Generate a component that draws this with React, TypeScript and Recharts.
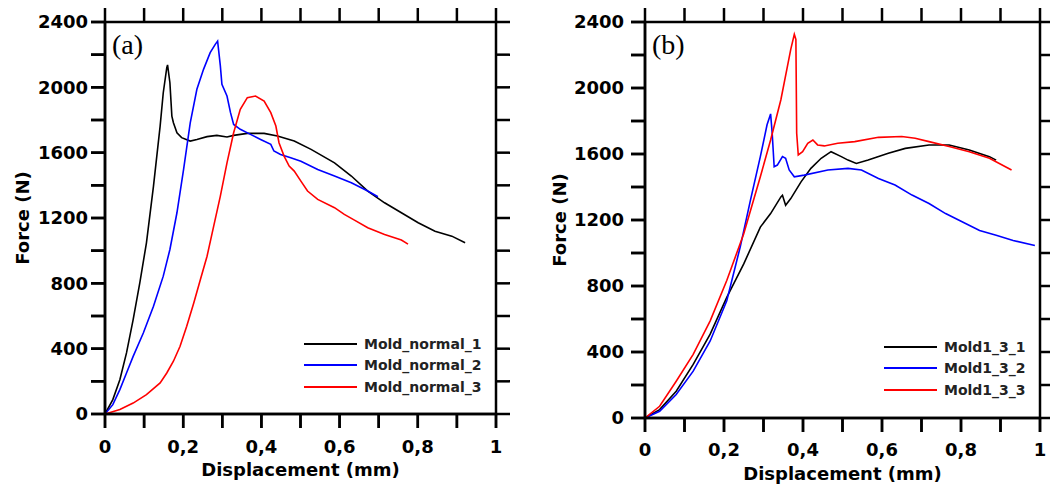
import React from 'react';
import { LineChart, Line, XAxis, YAxis, Legend, Label } from 'recharts';

// panel (a)
const normal1X = [0, 0.02, 0.038, 0.055, 0.072, 0.089, 0.106, 0.124, 0.141, 0.149, 0.158, 0.16, 0.166, 0.171, 0.175, 0.184, 0.196, 0.218, 0.235, 0.261, 0.286, 0.312, 0.329, 0.364, 0.407, 0.441, 0.484, 0.527, 0.587, 0.63, 0.672, 0.715, 0.758, 0.801, 0.844, 0.887, 0.921];
const normal1F = [0, 88, 210, 374, 578, 803, 1048, 1395, 1763, 1967, 2120, 2137, 2028, 1824, 1783, 1722, 1692, 1671, 1681, 1698, 1706, 1696, 1706, 1718, 1718, 1702, 1671, 1620, 1538, 1457, 1365, 1293, 1232, 1171, 1119, 1089, 1048];

const normal2X = [0, 0.02, 0.038, 0.055, 0.072, 0.098, 0.124, 0.149, 0.166, 0.184, 0.201, 0.218, 0.235, 0.252, 0.269, 0.282, 0.288, 0.295, 0.299, 0.312, 0.321, 0.329, 0.346, 0.372, 0.398, 0.424, 0.432, 0.449, 0.475, 0.501, 0.544, 0.587, 0.63, 0.672, 0.698];
const normal2F = [0, 57, 149, 251, 353, 496, 660, 844, 1007, 1232, 1497, 1783, 1988, 2110, 2212, 2263, 2283, 2131, 2018, 1947, 1845, 1773, 1743, 1712, 1681, 1651, 1610, 1589, 1569, 1548, 1497, 1457, 1416, 1365, 1330];

const normal3X = [0, 0.038, 0.072, 0.106, 0.141, 0.158, 0.175, 0.192, 0.209, 0.227, 0.244, 0.261, 0.278, 0.295, 0.312, 0.329, 0.346, 0.364, 0.385, 0.407, 0.424, 0.437, 0.445, 0.458, 0.471, 0.484, 0.501, 0.518, 0.544, 0.587, 0.612, 0.638, 0.672, 0.715, 0.758, 0.775];
const normal3F = [0, 27, 67, 118, 190, 251, 323, 415, 537, 680, 823, 966, 1150, 1334, 1538, 1722, 1865, 1937, 1947, 1916, 1845, 1763, 1661, 1579, 1518, 1487, 1426, 1365, 1314, 1263, 1222, 1187, 1140, 1099, 1065, 1040];

// panel (b)
const mold1X = [0, 0.037, 0.079, 0.122, 0.165, 0.207, 0.25, 0.292, 0.318, 0.344, 0.348, 0.356, 0.369, 0.395, 0.42, 0.446, 0.471, 0.497, 0.514, 0.535, 0.565, 0.616, 0.659, 0.719, 0.77, 0.821, 0.872, 0.889];
const mold1F = [0, 51, 162, 325, 508, 731, 934, 1157, 1239, 1340, 1350, 1289, 1330, 1431, 1513, 1574, 1614, 1584, 1563, 1543, 1563, 1604, 1634, 1655, 1655, 1624, 1584, 1563];

const mold2X = [0, 0.037, 0.079, 0.122, 0.165, 0.207, 0.241, 0.267, 0.292, 0.309, 0.318, 0.322, 0.327, 0.335, 0.348, 0.356, 0.365, 0.378, 0.403, 0.463, 0.514, 0.548, 0.591, 0.633, 0.676, 0.719, 0.761, 0.804, 0.847, 0.889, 0.932, 0.987];
const mold2F = [0, 41, 142, 284, 467, 711, 1036, 1320, 1584, 1777, 1843, 1726, 1523, 1533, 1584, 1574, 1503, 1462, 1472, 1503, 1513, 1503, 1452, 1412, 1351, 1300, 1239, 1188, 1137, 1107, 1076, 1046];

const mold3X = [0, 0.037, 0.079, 0.122, 0.165, 0.207, 0.25, 0.292, 0.318, 0.344, 0.369, 0.378, 0.382, 0.384, 0.388, 0.399, 0.412, 0.425, 0.437, 0.454, 0.488, 0.531, 0.591, 0.65, 0.684, 0.719, 0.77, 0.821, 0.872, 0.928];
const mold3F = [0, 71, 223, 386, 589, 833, 1117, 1462, 1685, 1929, 2234, 2325, 2294, 1726, 1594, 1614, 1665, 1685, 1655, 1649, 1665, 1675, 1701, 1706, 1695, 1675, 1645, 1614, 1574, 1503];

const xTicks = [0, 0.1, 0.2, 0.3, 0.4, 0.5, 0.6, 0.7, 0.8, 0.9, 1];
const yTicks = [0, 200, 400, 600, 800, 1000, 1200, 1400, 1600, 1800, 2000, 2200, 2400];

const X_MAX = 1;
const Y_MAX = 2400;
const TICK = 14;
const W = 525;
const H = 486;

const toPoints = (xs: number[], fs: number[]) => xs.map((x, i) => ({ x, f: fs[i] }));

const FONT = '"DejaVu Sans", Verdana, sans-serif';

const fmtX = (v: number) => (Math.round(v * 10) % 2 === 0 ? String(v).replace('.', ',') : '');
const fmtY = (v: number) => (v % 400 === 0 ? String(v) : '');

const XTick = (props: any) => (
  <text x={props.x} y={props.y} dy="0.72em" textAnchor="middle" fontFamily={FONT} fontWeight="bold" fontSize={18} fill="#000" stroke="none">
    {fmtX(props.payload.value)}
  </text>
);

const YTick = (props: any) => (
  <text x={props.x} y={props.y} dy="0.36em" textAnchor="end" fontFamily={FONT} fontWeight="bold" fontSize={18} fill="#000" stroke="none">
    {fmtY(props.payload.value)}
  </text>
);

const renderLegend = (props: any) => (
  <div style={{ fontFamily: FONT, fontWeight: 'bold', fontSize: 14 }}>
    {props.payload.map((p: any) => (
      <div key={p.value} style={{ display: 'flex', alignItems: 'center', height: 21.5 }}>
        <svg width={53} height={4} style={{ marginRight: 7 }}>
          <line x1={0} y1={2} x2={53} y2={2} stroke={p.color} strokeWidth={2} />
        </svg>
        <span style={{ color: '#222' }}>{p.value}</span>
      </div>
    ))}
  </div>
);

interface Series {
  name: string;
  color: string;
  xs: number[];
  fs: number[];
}

interface PanelProps {
  series: Series[];
  yAxisWidth: number;
  xAxisHeight: number;
  rightMargin: number;
  yTickMargin: number;
  xTickMargin: number;
  yLabelDx: number;
  xLabelOffset: number;
  legendLeft: number;
  legendTop: number;
}

const TOP = 22;

// box frame with outward ticks on all four sides, same box as the plot area
const Frame = ({ left, right, bottom }: { left: number; right: number; bottom: number }) => {
  const sx = (v: number) => left + (v / X_MAX) * (right - left);
  const sy = (v: number) => bottom - (v / Y_MAX) * (bottom - TOP);
  return (
    <svg width={W} height={H} style={{ position: 'absolute', left: 0, top: 0, pointerEvents: 'none' }}>
      <g stroke="#000" strokeWidth={2.5} fill="none">
        <rect x={left} y={TOP} width={right - left} height={bottom - TOP} />
        {xTicks.map((v) => (
          <g key={`x${v}`}>
            <line x1={sx(v)} y1={bottom} x2={sx(v)} y2={bottom + TICK} />
            <line x1={sx(v)} y1={TOP} x2={sx(v)} y2={TOP - TICK} />
          </g>
        ))}
        {yTicks.map((v) => (
          <g key={`y${v}`}>
            <line x1={left} y1={sy(v)} x2={left - TICK} y2={sy(v)} />
            <line x1={right} y1={sy(v)} x2={right + TICK} y2={sy(v)} />
          </g>
        ))}
      </g>
    </svg>
  );
};

const Panel = (p: PanelProps) => (
  <LineChart
    width={W}
    height={H}
    margin={{ top: TOP, right: p.rightMargin, bottom: 0, left: 0 }}
  >
    <XAxis
      dataKey="x"
      type="number"
      domain={[0, X_MAX]}
      ticks={xTicks}
      tickSize={TICK}
      tickMargin={p.xTickMargin}
      tick={<XTick />}
      stroke="#000"
      strokeWidth={2.5}
      height={p.xAxisHeight}
      allowDataOverflow
    >
      <Label
        value="Displacement (mm)"
        position="insideBottom"
        offset={p.xLabelOffset}
        style={{ fontFamily: FONT, fontWeight: 'bold', fontSize: 18, fill: '#000', stroke: 'none' }}
      />
    </XAxis>
    <YAxis
      type="number"
      domain={[0, Y_MAX]}
      ticks={yTicks}
      tickSize={TICK}
      tickMargin={p.yTickMargin}
      tick={<YTick />}
      stroke="#000"
      strokeWidth={2.5}
      width={p.yAxisWidth}
      allowDataOverflow
    >
      <Label
        value="Force (N)"
        position="center"
        angle={-90}
        dx={p.yLabelDx}
        style={{ fontFamily: FONT, fontWeight: 'bold', fontSize: 18, fill: '#000', stroke: 'none', textAnchor: 'middle' }}
      />
    </YAxis>
    {p.series.map((s) => (
      <Line
        key={s.name}
        name={s.name}
        data={toPoints(s.xs, s.fs)}
        dataKey="f"
        type="linear"
        stroke={s.color}
        strokeWidth={1.6}
        dot={false}
        isAnimationActive={false}
      />
    ))}
    <Legend
      layout="vertical"
      align="center"
      verticalAlign="middle"
      content={renderLegend}
      wrapperStyle={{ left: p.legendLeft, top: p.legendTop, width: 230, bottom: 'auto', right: 'auto' }}
    />
  </LineChart>
);

const seriesA: Series[] = [
  { name: 'Mold_normal_1', color: '#000000', xs: normal1X, fs: normal1F },
  { name: 'Mold_normal_2', color: '#0000ff', xs: normal2X, fs: normal2F },
  { name: 'Mold_normal_3', color: '#ff0000', xs: normal3X, fs: normal3F },
];

const seriesB: Series[] = [
  { name: 'Mold1_3_1', color: '#000000', xs: mold1X, fs: mold1F },
  { name: 'Mold1_3_2', color: '#0000ff', xs: mold2X, fs: mold2F },
  { name: 'Mold1_3_3', color: '#ff0000', xs: mold3X, fs: mold3F },
];

const panelLabel: React.CSSProperties = {
  position: 'absolute',
  fontFamily: '"Liberation Serif", "Times New Roman", serif',
  fontSize: 28,
  lineHeight: '28px',
  color: '#000',
};

export default function App() {
  return (
    <div style={{ position: 'absolute', left: 0, top: 0, width: 1050, height: 486, background: '#fff', overflow: 'hidden' }}>
      <div style={{ position: 'absolute', left: 0, top: 0, width: W, height: H }}>
        <Panel
          series={seriesA}
          yAxisWidth={105}
          xAxisHeight={72}
          rightMargin={29}
          yTickMargin={3}
          xTickMargin={12}
          yLabelDx={-29.5}
          xLabelOffset={10}
          legendLeft={304}
          legendTop={333}
        />
        <Frame left={105} right={496} bottom={414} />
      </div>
      <div style={{ position: 'absolute', left: 525, top: 0, width: W, height: H }}>
        <Panel
          series={seriesB}
          yAxisWidth={120}
          xAxisHeight={68}
          rightMargin={10}
          yTickMargin={7}
          xTickMargin={11}
          yLabelDx={-25}
          xLabelOffset={6}
          legendLeft={359}
          legendTop={336}
        />
        <Frame left={120} right={515} bottom={418} />
      </div>
      <span style={{ ...panelLabel, left: 112, top: 31 }}>(a)</span>
      <span style={{ ...panelLabel, left: 652, top: 31 }}>(b)</span>
    </div>
  );
}
